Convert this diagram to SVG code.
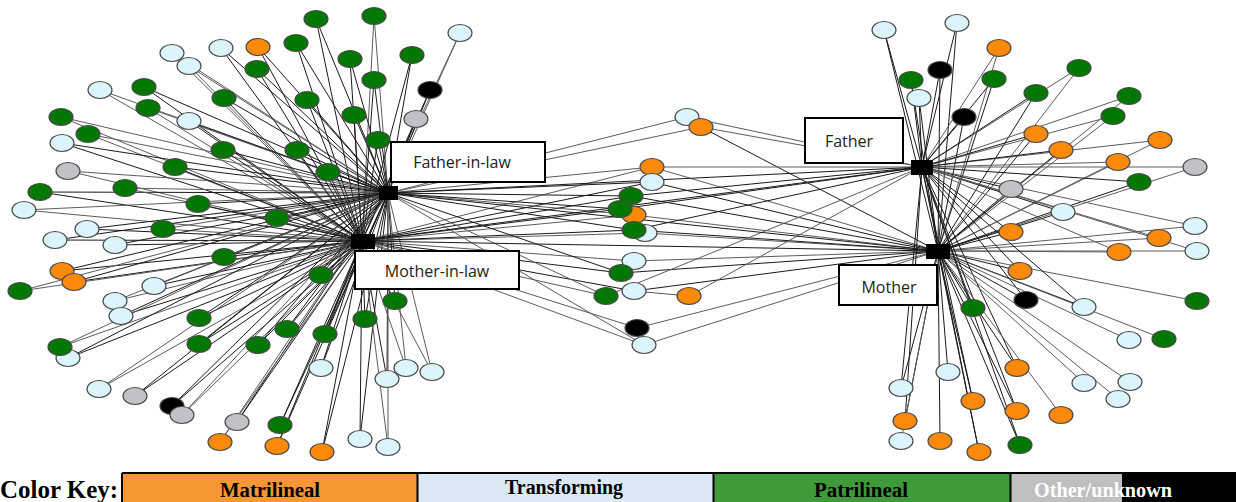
<svg xmlns="http://www.w3.org/2000/svg" width="1236" height="502" viewBox="0 0 1236 502">
<style>
.e path{fill:none;stroke-width:1}
.a{stroke:#1a1a1a}
.b{stroke:#5c5c5c}
.n ellipse{stroke:#4a4a4a;stroke-width:1.2}
.G{fill:#007800}.O{fill:#fb8a0a}.L{fill:#dcf4fb}.Y{fill:#c2c2c6}.K{fill:#000}
.hub{fill:#000}
.box{fill:#fff;stroke:#000;stroke-width:2}
.lbl{font-family:"Open Sans","Liberation Sans",sans-serif;font-size:16px;fill:#222;text-anchor:middle}
.key{font-family:"Liberation Serif",serif;font-weight:bold;font-size:20px}
</style>
<rect width="1236" height="502" fill="#fff"/>
<g id="connectors" class="e">
<path class="a" d="M316 19L388 193M316 19L362 241"/>
<path class="b" d="M374 16L388 193M374 16L362 241"/>
<path class="b" d="M460 33L388 193M460 33L362 241"/>
<path class="a" d="M258 47L388 193M258 47L362 241"/>
<path class="a" d="M296 43L388 193M296 43L362 241"/>
<path class="b" d="M172 53L388 193M172 53L362 241"/>
<path class="a" d="M221 48L388 193M221 48L362 241"/>
<path class="a" d="M350 59L388 193M350 59L362 241"/>
<path class="a" d="M412 55L388 193M412 55L362 241"/>
<path class="b" d="M189 66L388 193M189 66L362 241"/>
<path class="a" d="M257 69L388 193M257 69L362 241"/>
<path class="a" d="M374 80L388 193M374 80L362 241"/>
<path class="a" d="M430 90L388 193M430 90L362 241"/>
<path class="b" d="M100 90L388 193M100 90L362 241"/>
<path class="a" d="M144 87L388 193M144 87L362 241"/>
<path class="a" d="M224 98L388 193M224 98L362 241"/>
<path class="a" d="M307 100L388 193M307 100L362 241"/>
<path class="b" d="M148 108L388 193M148 108L362 241"/>
<path class="a" d="M354 115L388 193M354 115L362 241"/>
<path class="a" d="M416 119L388 193M416 119L362 241"/>
<path class="b" d="M61 117L388 193M61 117L362 241"/>
<path class="a" d="M189 121L388 193M189 121L362 241"/>
<path class="b" d="M88 134L388 193M88 134L362 241"/>
<path class="a" d="M62 143L388 193M62 143L362 241"/>
<path class="a" d="M223 150L388 193M223 150L362 241"/>
<path class="a" d="M297 150L388 193M297 150L362 241"/>
<path class="a" d="M378 140L388 193M378 140L362 241"/>
<path class="b" d="M68 171L388 193M68 171L362 241"/>
<path class="a" d="M175 167L388 193M175 167L362 241"/>
<path class="a" d="M328 172L388 193M328 172L362 241"/>
<path class="a" d="M40 192L388 193M40 192L362 241"/>
<path class="b" d="M125 188L388 193M125 188L362 241"/>
<path class="b" d="M24 210L388 193M24 210L362 241"/>
<path class="a" d="M198 204L388 193M198 204L362 241"/>
<path class="a" d="M277 218L388 193M277 218L362 241"/>
<path class="a" d="M87 229L388 193M87 229L362 241"/>
<path class="b" d="M163 229L388 193M163 229L362 241"/>
<path class="a" d="M55 240L388 193M55 240L362 241"/>
<path class="a" d="M115 245L388 193M115 245L362 241"/>
<path class="a" d="M224 257L388 193M224 257L362 241"/>
<path class="a" d="M62 271L388 193M62 271L362 241"/>
<path class="a" d="M74 282L388 193M74 282L362 241"/>
<path class="b" d="M20 291L388 193M20 291L362 241"/>
<path class="a" d="M154 286L388 193M154 286L362 241"/>
<path class="b" d="M115 301L388 193M115 301L362 241"/>
<path class="a" d="M121 316L388 193M121 316L362 241"/>
<path class="a" d="M199 318L388 193M199 318L362 241"/>
<path class="a" d="M321 275L388 193M321 275L362 241"/>
<path class="b" d="M60 347L388 193M60 347L362 241"/>
<path class="a" d="M68 358L388 193M68 358L362 241"/>
<path class="a" d="M199 344L388 193M199 344L362 241"/>
<path class="a" d="M258 345L388 193M258 345L362 241"/>
<path class="a" d="M287 329L388 193M287 329L362 241"/>
<path class="a" d="M325 334L388 193M325 334L362 241"/>
<path class="a" d="M365 319L388 193M365 319L362 241"/>
<path class="a" d="M395 301L388 193M395 301L362 241"/>
<path class="b" d="M99 389L388 193M99 389L362 241"/>
<path class="a" d="M135 396L388 193M135 396L362 241"/>
<path class="a" d="M172 406L388 193M172 406L362 241"/>
<path class="b" d="M182 415L388 193M182 415L362 241"/>
<path class="a" d="M237 422L388 193M237 422L362 241"/>
<path class="a" d="M280 425L388 193M280 425L362 241"/>
<path class="b" d="M220 442L388 193M220 442L362 241"/>
<path class="a" d="M277 446L388 193M277 446L362 241"/>
<path class="a" d="M322 452L388 193M322 452L362 241"/>
<path class="a" d="M321 368L388 193M321 368L362 241"/>
<path class="a" d="M387 379L388 193M387 379L362 241"/>
<path class="b" d="M406 368L388 193M406 368L362 241"/>
<path class="b" d="M432 372L388 193M432 372L362 241"/>
<path class="a" d="M360 439L388 193M360 439L362 241"/>
<path class="b" d="M388 447L388 193M388 447L362 241"/>
<path class="b" d="M687 117L388 193M687 117L922 167"/>
<path class="b" d="M701 127L388 193M701 127L922 167"/>
<path class="a" d="M701 127L938 251"/>
<path class="b" d="M652 167L388 193M652 167L362 241M652 167L922 167M652 167L938 251"/>
<path class="a" d="M652 182L388 193M652 182L362 241M652 182L938 251"/>
<path class="a" d="M631 196L388 193M631 196L362 241M631 196L922 167M631 196L938 251"/>
<path class="b" d="M634 215L388 193M634 215L362 241M634 215L938 251"/>
<path class="a" d="M620 209L388 193M620 209L362 241M620 209L922 167"/>
<path class="b" d="M645 233L362 241M645 233L938 251"/>
<path class="a" d="M634 230L388 193M634 230L362 241M634 230L938 251M634 230L922 167"/>
<path class="b" d="M634 261L362 241M634 261L938 251"/>
<path class="a" d="M621 273L362 241M621 273L388 193M621 273L938 251"/>
<path class="a" d="M634 291L362 241M634 291L938 251"/>
<path class="b" d="M606 296L362 241M606 296L388 193M606 296L922 167"/>
<path class="b" d="M689 296L634 291M689 296L922 167"/>
<path class="b" d="M637 328L362 241M637 328L938 251"/>
<path class="b" d="M644 345L362 241M644 345L388 193M644 345L938 251"/>
<path class="a" d="M388 193L938 251M362 241L938 251M388 193L922 167M362 241L922 167"/>
<path class="a" d="M884 30L922 167M884 30L938 251"/>
<path class="a" d="M957 23L922 167M957 23L938 251"/>
<path class="b" d="M999 48L922 167M999 48L938 251"/>
<path class="a" d="M940 70L922 167M940 70L938 251"/>
<path class="a" d="M911 80L922 167M911 80L938 251"/>
<path class="a" d="M994 79L922 167M994 79L938 251"/>
<path class="b" d="M1079 68L922 167M1079 68L938 251"/>
<path class="a" d="M919 98L922 167M919 98L938 251"/>
<path class="a" d="M1036 93L922 167M1036 93L938 251"/>
<path class="b" d="M1129 96L922 167M1129 96L938 251"/>
<path class="a" d="M964 117L922 167M964 117L938 251"/>
<path class="b" d="M1113 116L922 167M1113 116L938 251"/>
<path class="a" d="M1036 134L922 167M1036 134L938 251"/>
<path class="b" d="M1160 140L922 167M1160 140L938 251"/>
<path class="a" d="M1061 150L922 167M1061 150L938 251"/>
<path class="b" d="M1118 162L922 167M1118 162L938 251"/>
<path class="b" d="M1195 167L922 167M1195 167L938 251"/>
<path class="a" d="M1139 182L922 167M1139 182L938 251"/>
<path class="a" d="M1011 189L922 167M1011 189L938 251"/>
<path class="a" d="M1063 212L922 167M1063 212L938 251"/>
<path class="b" d="M1195 226L922 167M1195 226L938 251"/>
<path class="a" d="M1011 232L922 167M1011 232L938 251"/>
<path class="b" d="M1159 238L922 167M1159 238L938 251"/>
<path class="b" d="M1119 252L922 167M1119 252L938 251"/>
<path class="b" d="M1197 251L922 167M1197 251L938 251"/>
<path class="a" d="M1020 271L922 167M1020 271L938 251"/>
<path class="a" d="M1026 300L922 167M1026 300L938 251"/>
<path class="b" d="M1197 301L938 251"/>
<path class="a" d="M1084 307L922 167M1084 307L938 251"/>
<path class="a" d="M973 308L922 167M973 308L938 251"/>
<path class="b" d="M1129 340L938 251M1164 339L938 251"/>
<path class="a" d="M1017 368L922 167M1017 368L938 251"/>
<path class="a" d="M948 372L938 251"/>
<path class="a" d="M901 388L922 167M901 388L938 251"/>
<path class="b" d="M1084 383L938 251M1130 382L938 251M1118 399L938 251"/>
<path class="a" d="M973 401L922 167M973 401L938 251"/>
<path class="a" d="M1017 411L922 167M1017 411L938 251"/>
<path class="b" d="M1061 415L938 251"/>
<path class="a" d="M905 421L922 167M905 421L938 251"/>
<path class="b" d="M901 441L938 251"/>
<path class="a" d="M940 441L938 251"/>
<path class="a" d="M979 452L922 167M979 452L938 251"/>
<path class="a" d="M1020 445L922 167M1020 445L938 251"/>
</g>
<g class="n">
<g id="n1"><ellipse class="G" cx="316" cy="19" rx="12" ry="8.5"/></g>
<g id="n2"><ellipse class="G" cx="374" cy="16" rx="12" ry="8.5"/></g>
<g id="n3"><ellipse class="L" cx="460" cy="33" rx="12" ry="8.5"/></g>
<g id="n4"><ellipse class="O" cx="258" cy="47" rx="12" ry="8.5"/></g>
<g id="n5"><ellipse class="G" cx="296" cy="43" rx="12" ry="8.5"/></g>
<g id="n6"><ellipse class="L" cx="172" cy="53" rx="12" ry="8.5"/></g>
<g id="n7"><ellipse class="L" cx="221" cy="48" rx="12" ry="8.5"/></g>
<g id="n8"><ellipse class="G" cx="350" cy="59" rx="12" ry="8.5"/></g>
<g id="n9"><ellipse class="G" cx="412" cy="55" rx="12" ry="8.5"/></g>
<g id="n10"><ellipse class="L" cx="189" cy="66" rx="12" ry="8.5"/></g>
<g id="n11"><ellipse class="G" cx="257" cy="69" rx="12" ry="8.5"/></g>
<g id="n12"><ellipse class="G" cx="374" cy="80" rx="12" ry="8.5"/></g>
<g id="n13"><ellipse class="K" cx="430" cy="90" rx="12" ry="8.5"/></g>
<g id="n14"><ellipse class="L" cx="100" cy="90" rx="12" ry="8.5"/></g>
<g id="n15"><ellipse class="G" cx="144" cy="87" rx="12" ry="8.5"/></g>
<g id="n16"><ellipse class="G" cx="224" cy="98" rx="12" ry="8.5"/></g>
<g id="n17"><ellipse class="G" cx="307" cy="100" rx="12" ry="8.5"/></g>
<g id="n18"><ellipse class="G" cx="148" cy="108" rx="12" ry="8.5"/></g>
<g id="n19"><ellipse class="G" cx="354" cy="115" rx="12" ry="8.5"/></g>
<g id="n20"><ellipse class="Y" cx="416" cy="119" rx="12" ry="8.5"/></g>
<g id="n21"><ellipse class="G" cx="61" cy="117" rx="12" ry="8.5"/></g>
<g id="n22"><ellipse class="L" cx="189" cy="121" rx="12" ry="8.5"/></g>
<g id="n23"><ellipse class="G" cx="88" cy="134" rx="12" ry="8.5"/></g>
<g id="n24"><ellipse class="L" cx="62" cy="143" rx="12" ry="8.5"/></g>
<g id="n25"><ellipse class="G" cx="223" cy="150" rx="12" ry="8.5"/></g>
<g id="n26"><ellipse class="G" cx="297" cy="150" rx="12" ry="8.5"/></g>
<g id="n27"><ellipse class="G" cx="378" cy="140" rx="12" ry="8.5"/></g>
<g id="n28"><ellipse class="Y" cx="68" cy="171" rx="12" ry="8.5"/></g>
<g id="n29"><ellipse class="G" cx="175" cy="167" rx="12" ry="8.5"/></g>
<g id="n30"><ellipse class="G" cx="328" cy="172" rx="12" ry="8.5"/></g>
<g id="n31"><ellipse class="G" cx="40" cy="192" rx="12" ry="8.5"/></g>
<g id="n32"><ellipse class="G" cx="125" cy="188" rx="12" ry="8.5"/></g>
<g id="n33"><ellipse class="L" cx="24" cy="210" rx="12" ry="8.5"/></g>
<g id="n34"><ellipse class="G" cx="198" cy="204" rx="12" ry="8.5"/></g>
<g id="n35"><ellipse class="G" cx="277" cy="218" rx="12" ry="8.5"/></g>
<g id="n36"><ellipse class="L" cx="87" cy="229" rx="12" ry="8.5"/></g>
<g id="n37"><ellipse class="G" cx="163" cy="229" rx="12" ry="8.5"/></g>
<g id="n38"><ellipse class="L" cx="55" cy="240" rx="12" ry="8.5"/></g>
<g id="n39"><ellipse class="L" cx="115" cy="245" rx="12" ry="8.5"/></g>
<g id="n40"><ellipse class="G" cx="224" cy="257" rx="12" ry="8.5"/></g>
<g id="n41"><ellipse class="O" cx="62" cy="271" rx="12" ry="8.5"/></g>
<g id="n42"><ellipse class="O" cx="74" cy="282" rx="12" ry="8.5"/></g>
<g id="n43"><ellipse class="G" cx="20" cy="291" rx="12" ry="8.5"/></g>
<g id="n44"><ellipse class="L" cx="154" cy="286" rx="12" ry="8.5"/></g>
<g id="n45"><ellipse class="L" cx="115" cy="301" rx="12" ry="8.5"/></g>
<g id="n46"><ellipse class="L" cx="121" cy="316" rx="12" ry="8.5"/></g>
<g id="n47"><ellipse class="G" cx="199" cy="318" rx="12" ry="8.5"/></g>
<g id="n48"><ellipse class="G" cx="321" cy="275" rx="12" ry="8.5"/></g>
<g id="n49"><ellipse class="L" cx="68" cy="358" rx="12" ry="8.5"/></g>
<g id="n50"><ellipse class="G" cx="60" cy="347" rx="12" ry="8.5"/></g>
<g id="n51"><ellipse class="G" cx="199" cy="344" rx="12" ry="8.5"/></g>
<g id="n52"><ellipse class="G" cx="258" cy="345" rx="12" ry="8.5"/></g>
<g id="n53"><ellipse class="G" cx="287" cy="329" rx="12" ry="8.5"/></g>
<g id="n54"><ellipse class="G" cx="325" cy="334" rx="12" ry="8.5"/></g>
<g id="n55"><ellipse class="G" cx="365" cy="319" rx="12" ry="8.5"/></g>
<g id="n56"><ellipse class="G" cx="395" cy="301" rx="12" ry="8.5"/></g>
<g id="n57"><ellipse class="L" cx="99" cy="389" rx="12" ry="8.5"/></g>
<g id="n58"><ellipse class="Y" cx="135" cy="396" rx="12" ry="8.5"/></g>
<g id="n59"><ellipse class="K" cx="172" cy="406" rx="12" ry="8.5"/></g>
<g id="n60"><ellipse class="Y" cx="182" cy="415" rx="12" ry="8.5"/></g>
<g id="n61"><ellipse class="Y" cx="237" cy="422" rx="12" ry="8.5"/></g>
<g id="n62"><ellipse class="G" cx="280" cy="425" rx="12" ry="8.5"/></g>
<g id="n63"><ellipse class="O" cx="220" cy="442" rx="12" ry="8.5"/></g>
<g id="n64"><ellipse class="O" cx="277" cy="446" rx="12" ry="8.5"/></g>
<g id="n65"><ellipse class="O" cx="322" cy="452" rx="12" ry="8.5"/></g>
<g id="n66"><ellipse class="L" cx="321" cy="368" rx="12" ry="8.5"/></g>
<g id="n67"><ellipse class="L" cx="406" cy="368" rx="12" ry="8.5"/></g>
<g id="n68"><ellipse class="L" cx="387" cy="379" rx="12" ry="8.5"/></g>
<g id="n69"><ellipse class="L" cx="432" cy="372" rx="12" ry="8.5"/></g>
<g id="n70"><ellipse class="L" cx="360" cy="439" rx="12" ry="8.5"/></g>
<g id="n71"><ellipse class="L" cx="388" cy="447" rx="12" ry="8.5"/></g>
<g id="c1"><ellipse class="L" cx="687" cy="117" rx="12" ry="8.5"/></g>
<g id="c2"><ellipse class="O" cx="701" cy="127" rx="12" ry="8.5"/></g>
<g id="c3"><ellipse class="O" cx="652" cy="167" rx="12" ry="8.5"/></g>
<g id="c4"><ellipse class="L" cx="652" cy="182" rx="12" ry="8.5"/></g>
<g id="c6"><ellipse class="O" cx="634" cy="215" rx="12" ry="8.5"/></g>
<g id="c5"><ellipse class="G" cx="631" cy="196" rx="12" ry="8.5"/></g>
<g id="c7"><ellipse class="G" cx="620" cy="209" rx="12" ry="8.5"/></g>
<g id="c8"><ellipse class="L" cx="645" cy="233" rx="12" ry="8.5"/></g>
<g id="c9"><ellipse class="G" cx="634" cy="230" rx="12" ry="8.5"/></g>
<g id="c10"><ellipse class="L" cx="634" cy="261" rx="12" ry="8.5"/></g>
<g id="c11"><ellipse class="G" cx="621" cy="273" rx="12" ry="8.5"/></g>
<g id="c13"><ellipse class="G" cx="606" cy="296" rx="12" ry="8.5"/></g>
<g id="c12"><ellipse class="L" cx="634" cy="291" rx="12" ry="8.5"/></g>
<g id="c14"><ellipse class="O" cx="689" cy="296" rx="12" ry="8.5"/></g>
<g id="c15"><ellipse class="K" cx="637" cy="328" rx="12" ry="8.5"/></g>
<g id="c16"><ellipse class="L" cx="644" cy="345" rx="12" ry="8.5"/></g>
<g id="r1"><ellipse class="L" cx="884" cy="30" rx="12" ry="8.5"/></g>
<g id="r2"><ellipse class="L" cx="957" cy="23" rx="12" ry="8.5"/></g>
<g id="r3"><ellipse class="O" cx="999" cy="48" rx="12" ry="8.5"/></g>
<g id="r4"><ellipse class="K" cx="940" cy="70" rx="12" ry="8.5"/></g>
<g id="r5"><ellipse class="G" cx="911" cy="80" rx="12" ry="8.5"/></g>
<g id="r6"><ellipse class="G" cx="994" cy="79" rx="12" ry="8.5"/></g>
<g id="r7"><ellipse class="G" cx="1079" cy="68" rx="12" ry="8.5"/></g>
<g id="r8"><ellipse class="L" cx="919" cy="98" rx="12" ry="8.5"/></g>
<g id="r9"><ellipse class="G" cx="1036" cy="93" rx="12" ry="8.5"/></g>
<g id="r10"><ellipse class="G" cx="1129" cy="96" rx="12" ry="8.5"/></g>
<g id="r11"><ellipse class="K" cx="964" cy="117" rx="12" ry="8.5"/></g>
<g id="r12"><ellipse class="G" cx="1113" cy="116" rx="12" ry="8.5"/></g>
<g id="r13"><ellipse class="O" cx="1036" cy="134" rx="12" ry="8.5"/></g>
<g id="r14"><ellipse class="O" cx="1160" cy="140" rx="12" ry="8.5"/></g>
<g id="r15"><ellipse class="O" cx="1061" cy="150" rx="12" ry="8.5"/></g>
<g id="r16"><ellipse class="O" cx="1118" cy="162" rx="12" ry="8.5"/></g>
<g id="r17"><ellipse class="Y" cx="1195" cy="167" rx="12" ry="8.5"/></g>
<g id="r18"><ellipse class="G" cx="1139" cy="182" rx="12" ry="8.5"/></g>
<g id="r19"><ellipse class="Y" cx="1011" cy="189" rx="12" ry="8.5"/></g>
<g id="r20"><ellipse class="L" cx="1063" cy="212" rx="12" ry="8.5"/></g>
<g id="r21"><ellipse class="L" cx="1195" cy="226" rx="12" ry="8.5"/></g>
<g id="r22"><ellipse class="O" cx="1011" cy="232" rx="12" ry="8.5"/></g>
<g id="r23"><ellipse class="O" cx="1159" cy="238" rx="12" ry="8.5"/></g>
<g id="r24"><ellipse class="O" cx="1119" cy="252" rx="12" ry="8.5"/></g>
<g id="r25"><ellipse class="L" cx="1197" cy="251" rx="12" ry="8.5"/></g>
<g id="r26"><ellipse class="O" cx="1020" cy="271" rx="12" ry="8.5"/></g>
<g id="r27"><ellipse class="K" cx="1026" cy="300" rx="12" ry="8.5"/></g>
<g id="r28"><ellipse class="G" cx="1197" cy="301" rx="12" ry="8.5"/></g>
<g id="r29"><ellipse class="L" cx="1084" cy="307" rx="12" ry="8.5"/></g>
<g id="r30"><ellipse class="G" cx="973" cy="308" rx="12" ry="8.5"/></g>
<g id="r31"><ellipse class="L" cx="1129" cy="340" rx="12" ry="8.5"/></g>
<g id="r32"><ellipse class="G" cx="1164" cy="339" rx="12" ry="8.5"/></g>
<g id="r33"><ellipse class="O" cx="1017" cy="368" rx="12" ry="8.5"/></g>
<g id="r34"><ellipse class="L" cx="948" cy="372" rx="12" ry="8.5"/></g>
<g id="r35"><ellipse class="L" cx="901" cy="388" rx="12" ry="8.5"/></g>
<g id="r36"><ellipse class="L" cx="1084" cy="383" rx="12" ry="8.5"/></g>
<g id="r37"><ellipse class="L" cx="1130" cy="382" rx="12" ry="8.5"/></g>
<g id="r38"><ellipse class="L" cx="1118" cy="399" rx="12" ry="8.5"/></g>
<g id="r39"><ellipse class="O" cx="973" cy="401" rx="12" ry="8.5"/></g>
<g id="r40"><ellipse class="O" cx="1017" cy="411" rx="12" ry="8.5"/></g>
<g id="r41"><ellipse class="O" cx="1061" cy="415" rx="12" ry="8.5"/></g>
<g id="r42"><ellipse class="O" cx="905" cy="421" rx="12" ry="8.5"/></g>
<g id="r43"><ellipse class="L" cx="901" cy="441" rx="12" ry="8.5"/></g>
<g id="r44"><ellipse class="O" cx="940" cy="441" rx="12" ry="8.5"/></g>
<g id="r45"><ellipse class="O" cx="979" cy="452" rx="12" ry="8.5"/></g>
<g id="r46"><ellipse class="G" cx="1020" cy="445" rx="12" ry="8.5"/></g>
</g>
<g id="hub-father-in-law">
<rect class="hub" x="379" y="186" width="19" height="14"/>
<rect class="box" x="391" y="142" width="154" height="40"/>
<text class="lbl" x="462" y="168">Father-in-law</text>
</g>
<g id="hub-mother-in-law">
<rect class="hub" x="351" y="234" width="24" height="15"/>
<rect class="box" x="355" y="251" width="164" height="38"/>
<text class="lbl" x="437" y="277">Mother-in-law</text>
</g>
<g id="hub-father">
<rect class="hub" x="911" y="160" width="22" height="15"/>
<rect class="box" x="805" y="118" width="98" height="45"/>
<text class="lbl" x="849" y="147">Father</text>
</g>
<g id="hub-mother">
<rect class="hub" x="926" y="244" width="24" height="15"/>
<rect class="box" x="839" y="265" width="98" height="40"/>
<text class="lbl" x="889" y="293">Mother</text>
</g>
<g id="legend">
<text x="0" y="498" font-family="Liberation Serif,serif" font-weight="bold" font-size="25" fill="#000" textLength="118" lengthAdjust="spacingAndGlyphs">Color Key:</text>
<rect x="122" y="474" width="295" height="28" fill="#f79733"/>
<rect x="418" y="474" width="295" height="28" fill="#dce8f4"/>
<rect x="714" y="474" width="296" height="28" fill="#3f9b39"/>
<rect x="1011" y="474" width="112" height="28" fill="#bfbfbf"/>
<rect x="1122" y="474" width="114" height="28" fill="#000"/>
<path d="M122 473H1236M122 473V502M417.5 473V502M713.5 473V502M1010.5 473V502" stroke="#000" stroke-width="2" fill="none"/>
<text class="key" x="220" y="497" fill="#000" textLength="100" lengthAdjust="spacingAndGlyphs">Matrilineal</text>
<text class="key" x="505" y="494" fill="#000" textLength="118" lengthAdjust="spacingAndGlyphs">Transforming</text>
<text class="key" x="814" y="497" fill="#000" textLength="94" lengthAdjust="spacingAndGlyphs">Patrilineal</text>
<text class="key" x="1034" y="497" fill="#fff" textLength="138" lengthAdjust="spacingAndGlyphs">Other/unknown</text>
</g>
</svg>
